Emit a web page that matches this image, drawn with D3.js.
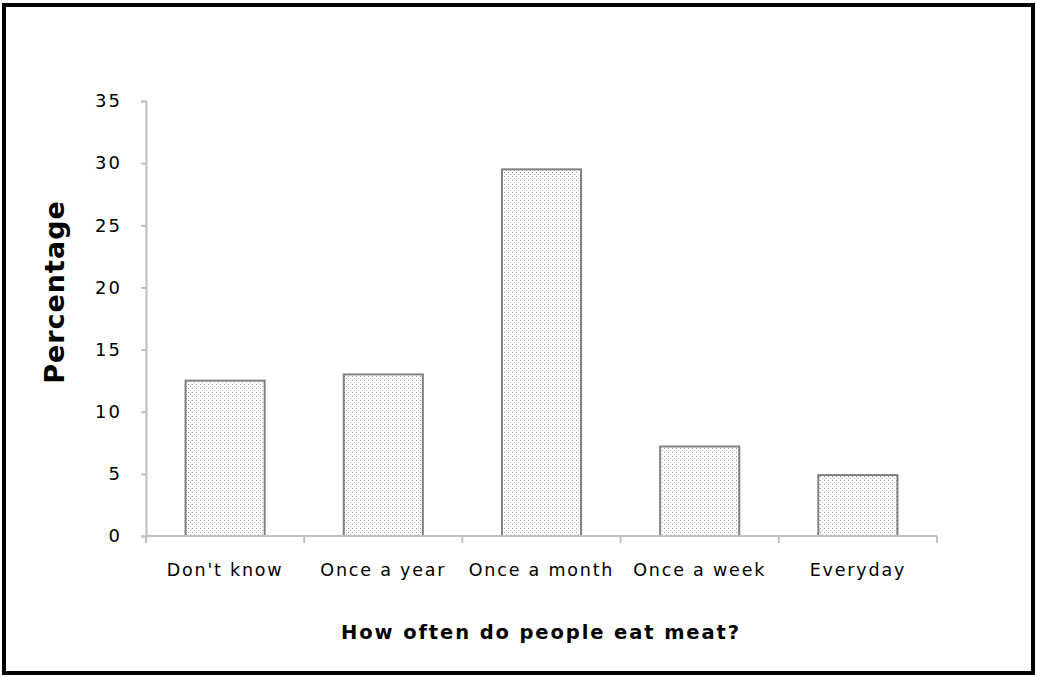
<!DOCTYPE html>
<html><head><meta charset="utf-8">
<script src="https://cdn.jsdelivr.net/npm/d3@7"></script>
<style>body{margin:0;background:#fff}svg{display:block}</style>
</head><body>
<script>
const categories = ["Don't know","Once a year","Once a month","Once a week","Everyday"];
const values = [12.5, 13, 29.5, 7.2, 4.9];
const yTicks = [0,5,10,15,20,25,30,35];
const xTitle = "How often do people eat meat?";
const yTitle = "Percentage";

const W = 1037, H = 677;
const svg = d3.select("body").append("svg").attr("width", W).attr("height", H);
svg.append("rect").attr("x",4).attr("y",5).attr("width",W-8).attr("height",H-9)
  .attr("fill","#fff").attr("stroke","#000").attr("stroke-width",4);

const defs = svg.append("defs");
const pat = defs.append("pattern").attr("id","dots").attr("patternUnits","userSpaceOnUse")
  .attr("width",4).attr("height",4);
pat.append("rect").attr("width",4).attr("height",4).attr("fill","#fff");
pat.append("rect").attr("x",0).attr("y",0).attr("width",1).attr("height",1).attr("fill","#999");
pat.append("rect").attr("x",2).attr("y",2).attr("width",1).attr("height",1).attr("fill","#bbb");

const x = d3.scaleBand().domain(categories).range([146, 937]).paddingInner(0.5).paddingOuter(0.25);
const y = d3.scaleLinear().domain([0,35]).range([536, 101]);

const font = "'DejaVu Sans', Verdana, sans-serif";

// y axis
const ya = svg.append("g").attr("transform","translate(146,0)")
  .call(d3.axisLeft(y).tickValues(yTicks).tickSize(5).tickPadding(19));
ya.select(".domain").attr("stroke","#c0c0c0").attr("stroke-width",2);
ya.selectAll(".tick line").attr("stroke","#c0c0c0").attr("stroke-width",2);
ya.selectAll("text").attr("font-family",font).attr("font-size",18).attr("letter-spacing",2).attr("fill","#000");

// bars
svg.selectAll(".bar").data(values).join("rect")
  .attr("x",(d,i)=>x(categories[i]))
  .attr("y",d=>y(d))
  .attr("width",x.bandwidth())
  .attr("height",d=>y(0)-y(d))
  .attr("fill","url(#dots)").attr("stroke","#808080").attr("stroke-width",2);

// x axis
const xa = svg.append("g").attr("transform","translate(0,536)")
  .call(d3.axisBottom(x).tickSize(0).tickPadding(28));
xa.select(".domain").attr("stroke","#c0c0c0").attr("stroke-width",2).attr("d","M146,0H937");
xa.selectAll("text").attr("font-family",font).attr("font-size",17.5).attr("letter-spacing",1.8).attr("fill","#000");
const step = (937-146)/categories.length;
svg.append("g").selectAll("line").data(d3.range(categories.length+1)).join("line")
  .attr("x1",i=>146+i*step).attr("x2",i=>146+i*step).attr("y1",536).attr("y2",543)
  .attr("stroke","#c0c0c0").attr("stroke-width",2);

svg.append("text").attr("x",541).attr("y",639).attr("text-anchor","middle")
  .attr("font-family",font).attr("font-weight","bold").attr("font-size",19.5).attr("letter-spacing",1.9).text(xTitle);
svg.append("text").attr("transform","translate(64,292) rotate(-90)").attr("text-anchor","middle")
  .attr("font-family",font).attr("font-weight","bold").attr("font-size",27).attr("letter-spacing",1).text(yTitle);
</script>
</body></html>
